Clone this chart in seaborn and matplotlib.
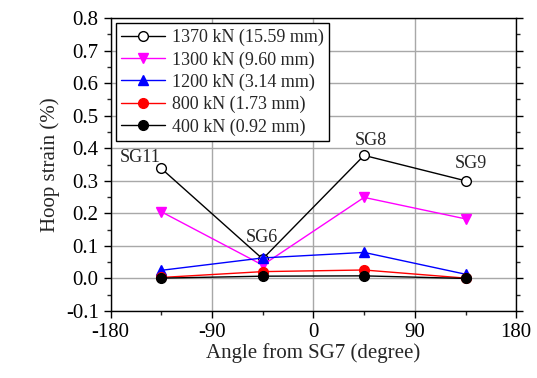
import matplotlib
matplotlib.use("Agg")
import matplotlib.pyplot as plt
import seaborn as sns
import numpy as np
from matplotlib.ticker import MultipleLocator

sns.set_style("white")
plt.rcParams['font.family'] = ['Liberation Serif', 'DejaVu Serif']

angles = [-135, -45, 45, 135]
labels = ["1370 kN (15.59 mm)", "1300 kN (9.60 mm)", "1200 kN (3.14 mm)",
          "800 kN (1.73 mm)", "400 kN (0.92 mm)"]
s1370 = [0.338, 0.060, 0.378, 0.300]
s1300 = [0.205, 0.041, 0.249, 0.183]
s1200 = [0.025, 0.063, 0.080, 0.013]
s800 = [0.003, 0.021, 0.026, 0.001]
s400 = [0.001, 0.007, 0.008, 0.000]
gauge_names = ["SG11", "SG6", "SG8", "SG9"]
x_ticks = [-180, -90, 0, 90, 180]
y_ticks = [-0.1, 0.0, 0.1, 0.2, 0.3, 0.4, 0.5, 0.6, 0.7, 0.8]

series = [s1370, s1300, s1200, s800, s400]
colors = ["black", "magenta", "blue", "red", "black"]
markers = ["o", "v", "^", "o", "o"]
faces = ["white", "magenta", "blue", "red", "black"]

fig = plt.figure(figsize=(5.37, 3.78), dpi=100)
ax = fig.add_axes([0.2058, 0.1772, 0.7555, 0.7752])

for vals, lab, c, m, fc in zip(series, labels, colors, markers, faces):
    sns.lineplot(x=angles, y=vals, ax=ax, color=c, marker=m, label=lab,
                 markerfacecolor=fc, markeredgecolor=c, markersize=7,
                 markeredgewidth=1, linewidth=1)

ax.set_xlim(-180, 180)
ax.set_ylim(-0.1, 0.8)
ax.set_xticks(x_ticks)
ax.set_xticklabels([str(t) for t in x_ticks])
ax.set_yticks(y_ticks)
ax.set_yticklabels([f"{t:.1f}" for t in y_ticks])
ax.xaxis.set_minor_locator(MultipleLocator(45))
ax.yaxis.set_minor_locator(MultipleLocator(0.05))
ax.grid(True, which="major", color="#a8a8a8", linewidth=1)
ax.set_axisbelow(True)
for sp in ax.spines.values():
    sp.set_color("black")
    sp.set_linewidth(1)
ax.tick_params(which="major", direction="out", length=5, width=1, labelsize=15,
               left=True, bottom=True, right=True, colors="black")
ax.tick_params(which="minor", direction="out", length=3, width=1,
               left=True, bottom=True, right=True)
ax.tick_params(axis="y", which="both", labelright=False)

ax.set_xlabel("Angle from SG7 (degree)", fontsize=15, labelpad=1)
ax.set_ylabel("Hoop strain (%)", fontsize=15, labelpad=4)

ann_pos = [(-154, 0.37), (-46, 0.125), (51, 0.425), (140, 0.353)]
for name, (xa, ya) in zip(gauge_names, ann_pos):
    ax.text(xa, ya, name, fontsize=13, ha="center", va="center")

leg = ax.legend(loc="upper left", fontsize=13, frameon=True, fancybox=False,
                edgecolor="black", framealpha=1, borderpad=0.3,
                labelspacing=0.28, handlelength=2.4, handletextpad=0.4,
                borderaxespad=0.3)
leg.get_frame().set_linewidth(1)

fig.savefig("out.png", dpi=100)
